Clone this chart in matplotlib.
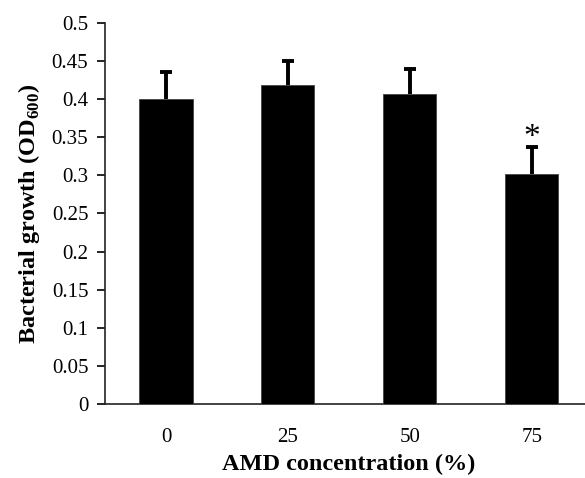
import matplotlib
matplotlib.use("Agg")
import matplotlib.pyplot as plt

plt.rcParams['font.family'] = ['Liberation Serif', 'DejaVu Serif']
plt.rcParams['mathtext.fontset'] = 'custom'
plt.rcParams['mathtext.rm'] = 'Liberation Serif'
plt.rcParams['mathtext.bf'] = 'Liberation Serif:bold'

categories = ['0', '25', '50', '75']
growth = [0.400, 0.418, 0.407, 0.302]
errors = [0.035, 0.032, 0.033, 0.035]
significant = [False, False, False, True]
yticks = [0, 0.05, 0.1, 0.15, 0.2, 0.25, 0.3, 0.35, 0.4, 0.45, 0.5]
ytick_labels = ['0', '0.05', '0.1', '0.15', '0.2', '0.25', '0.3', '0.35', '0.4', '0.45', '0.5']

fig = plt.figure(figsize=(5.85, 4.78), dpi=100)
ax = fig.add_axes([0.1795, 0.155, 0.834, 0.797])

x = range(len(categories))
ax.bar(x, growth, width=0.435, color='black', edgecolor='#444444', linewidth=0.6, zorder=3)
# only the upper half of the error bars is drawn
eb = ax.errorbar(x, growth, yerr=[[0] * len(errors), errors], fmt='none',
                 ecolor='black', elinewidth=2.8, capsize=4, capthick=2.8, zorder=2)
eb[1][0].set_visible(False)  # hide the cap sitting on the bar top

for i in x:
    if significant[i]:
        ax.text(i, growth[i] + errors[i] + 0.012, '*', ha='center', va='center',
                fontsize=24)

ax.set_xlim(-0.5, 3.5)
ax.set_ylim(0, 0.5)
ax.set_yticks(yticks)
ax.set_yticklabels(ytick_labels)
ax.set_xticks(list(x))
ax.set_xticklabels(categories)

for s in ['top', 'right']:
    ax.spines[s].set_visible(False)
for s in ['left', 'bottom']:
    ax.spines[s].set_linewidth(1.2)
    ax.spines[s].set_color('#222222')

ax.tick_params(axis='y', direction='out', length=6, width=1.2, labelsize=15, pad=6)
ax.tick_params(axis='x', length=0, labelsize=15, pad=17)

ax.set_xlabel('AMD concentration (%)', fontsize=17.5, fontweight='bold', labelpad=5)
ax.set_ylabel(r'Bacterial growth (OD$_{\mathbf{600}}$)', fontsize=17.5,
              fontweight='bold', labelpad=7)

fig.savefig('out.png', dpi=100)
